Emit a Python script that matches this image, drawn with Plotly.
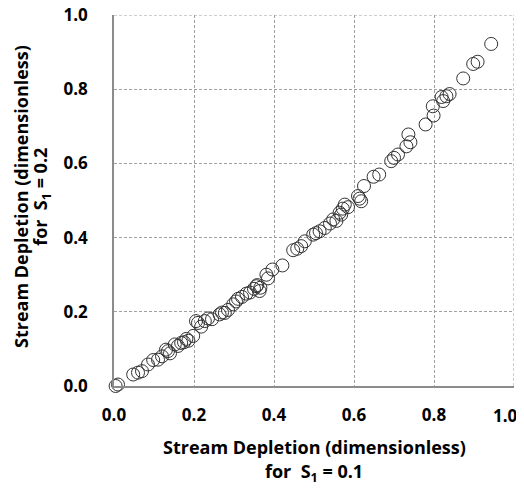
import plotly.graph_objects as go

# Stream depletion for S1 = 0.1 (x) vs S1 = 0.2 (y)
depletion_s01 = [
    0.004, 0.010, 0.048, 0.060, 0.070, 0.085, 0.098, 0.110, 0.120, 0.130,
    0.135, 0.140, 0.152, 0.160, 0.168, 0.175, 0.181, 0.186, 0.198, 0.205,
    0.210, 0.218, 0.227, 0.235, 0.245, 0.264, 0.270, 0.277, 0.285, 0.298,
    0.305, 0.310, 0.320, 0.331, 0.340, 0.350, 0.356, 0.358, 0.364, 0.366,
    0.381, 0.385, 0.396, 0.421, 0.448, 0.458, 0.468, 0.477, 0.498, 0.505,
    0.514, 0.527, 0.540, 0.548, 0.556, 0.564, 0.568, 0.572, 0.577, 0.585,
    0.610, 0.614, 0.618, 0.625, 0.649, 0.663, 0.693, 0.700, 0.710, 0.731,
    0.736, 0.741, 0.779, 0.797, 0.799, 0.819, 0.823, 0.831, 0.839, 0.873,
    0.898, 0.909, 0.943,
]
depletion_s02 = [
    0.000, 0.004, 0.031, 0.036, 0.040, 0.058, 0.070, 0.071, 0.080, 0.098,
    0.094, 0.088, 0.112, 0.108, 0.116, 0.118, 0.127, 0.122, 0.135, 0.175,
    0.170, 0.160, 0.175, 0.182, 0.180, 0.193, 0.198, 0.197, 0.205, 0.220,
    0.228, 0.235, 0.240, 0.249, 0.252, 0.262, 0.269, 0.272, 0.256, 0.265,
    0.300, 0.290, 0.314, 0.325, 0.366, 0.370, 0.377, 0.390, 0.408, 0.412,
    0.417, 0.426, 0.438, 0.449, 0.445, 0.467, 0.462, 0.478, 0.489, 0.482,
    0.512, 0.505, 0.498, 0.539, 0.564, 0.570, 0.606, 0.615, 0.624, 0.646,
    0.678, 0.657, 0.705, 0.754, 0.729, 0.779, 0.768, 0.781, 0.787, 0.829,
    0.868, 0.874, 0.922,
]

tick_vals = [0.0, 0.2, 0.4, 0.6, 0.8, 1.0]
tick_text = ["0.0", "0.2", "0.4", "0.6", "0.8", "1.0"]

title_main = "<b>Stream Depletion (dimensionless)</b>"
x_title_2 = "<b>for  S<sub>1</sub> = 0.1</b>"
y_title_2 = "<b>for  S<sub>1</sub> = 0.2</b>"

FONT = "Open Sans"
GRID = "#a0a0a0"
tick_font = dict(family=FONT, size=17, color="#000000", weight="bold")

fig = go.Figure()
fig.add_trace(go.Scatter(
    x=depletion_s01, y=depletion_s02, mode="markers",
    marker=dict(symbol="circle-open", size=13, color="#333333",
                line=dict(width=1, color="#333333")),
    showlegend=False, cliponaxis=False,
))

axis_common = dict(
    range=[0, 1], tickvals=tick_vals,
    showgrid=True, gridcolor=GRID, gridwidth=1, griddash="3px,2px",
    showline=True, linecolor="#8c8c8c", linewidth=1.5, mirror=False,
    zeroline=False, ticks="", automargin=False, ticklabeloverflow="allow",
    tickfont=tick_font,
)

# dashed grid lines on the far edges (top / right), like the reference
fig.add_shape(type="line", xref="x", yref="y", x0=0, x1=1, y0=1, y1=1,
              line=dict(color=GRID, width=1, dash="3px,2px"), layer="below")
fig.add_shape(type="line", xref="x", yref="y", x0=1, x1=1, y0=0, y1=1,
              line=dict(color=GRID, width=1, dash="3px,2px"), layer="below")

# last x tick label is pulled inward so it fits at the right edge (as in the reference)
fig.add_annotation(text=tick_text[-1], xref="x", yref="y", x=tick_vals[-1], y=tick_vals[0],
                   xanchor="right", yanchor="middle", xshift=6, yshift=-29,
                   showarrow=False, font=tick_font)

title_font = dict(family=FONT, size=18, color="#000000")
fig.add_annotation(text=title_main, xref="paper", yref="paper", x=0.5, y=-0.164,
                   xanchor="center", yanchor="middle", showarrow=False, font=title_font)
fig.add_annotation(text=x_title_2, xref="paper", yref="paper", x=0.5, y=-0.232,
                   xanchor="center", yanchor="middle", showarrow=False, font=title_font)
fig.add_annotation(text=title_main, xref="paper", yref="paper", x=-0.232, y=0.51,
                   xanchor="center", yanchor="middle", showarrow=False, textangle=-90,
                   font=title_font)
fig.add_annotation(text=y_title_2, xref="paper", yref="paper", x=-0.18, y=0.51,
                   xanchor="center", yanchor="middle", showarrow=False, textangle=-90,
                   font=title_font)

# the page body has an 8px margin, so the figure is 8px smaller each way
fig.update_layout(
    width=516, height=480,
    margin=dict(l=106, r=10, t=7, b=102),
    plot_bgcolor="white", paper_bgcolor="white",
    xaxis=dict(**axis_common, ticktext=tick_text[:-1] + [""], ticklabelstandoff=13),
    yaxis=dict(**axis_common, ticktext=tick_text, ticklabelstandoff=21),
)

fig.write_html("out.html")
